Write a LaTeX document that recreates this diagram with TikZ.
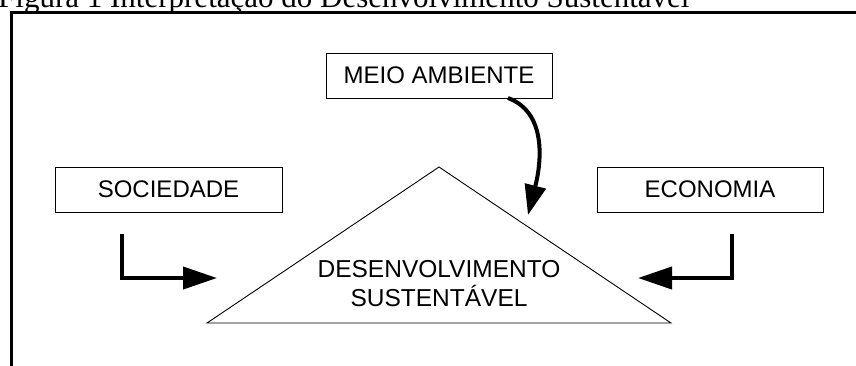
\documentclass[tikz,border=0pt]{standalone}
\usepackage{fontspec}
\setmainfont{Liberation Serif}
\newfontfamily\arialf{Liberation Sans}
\usetikzlibrary{arrows.meta}
\begin{document}
\begin{tikzpicture}[x=1pt,y=-1pt,
  box/.style={draw,line width=0.9pt,minimum width=#1,minimum height=45pt,inner sep=0pt,font=\arialf\fontsize{24}{28}\selectfont},
  flow/.style={line width=4pt,-{Triangle[length=34pt,width=22pt]}},
  lbl/.style={font=\arialf\fontsize{24.5}{29}\selectfont,align=center,inner sep=0pt}]
\useasboundingbox (0,0) rectangle (856,365);
\begin{scope}
\clip (0,0) rectangle (856,365);
\node[anchor=base west,inner sep=0pt,font=\fontsize{31}{34}\selectfont] (title) at (-2,7) {Figura 1 Interpretação do Desenvolvimento Sustentável};
\draw[line width=3pt] (11,380) -- (11,12) -- (870,12);
\end{scope}
\node[box=226pt] (meio) at (439,75.5) {MEIO AMBIENTE};
\node[box=227pt] (soc) at (168.5,189.5) {SOCIEDADE};
\node[box=226pt] (eco) at (710,189.5) {ECONOMIA};
\coordinate (tl) at (207,323);
\coordinate (ta) at (439,167);
\coordinate (tr) at (671,323);
\draw[line width=0.9pt] (tl) -- (ta) -- (tr) -- cycle;
\node[lbl] (dev) at (439,284) {DESENVOLVIMENTO\\SUSTENTÁVEL};
\coordinate (s1) at (122,234);
\coordinate (t1) at (217,278);
\coordinate (s2) at (732,234);
\coordinate (t2) at (638,278);
\draw[flow] (s1) |- (t1);
\draw[flow] (s2) |- (t2);
\coordinate (m1) at (508,98);
\coordinate (m2) at (528,215);
\draw[flow,-{Triangle[length=30pt,width=21pt]}] (m1) .. controls (546,112) and (542,160) .. (m2);
\end{tikzpicture}
\end{document}
